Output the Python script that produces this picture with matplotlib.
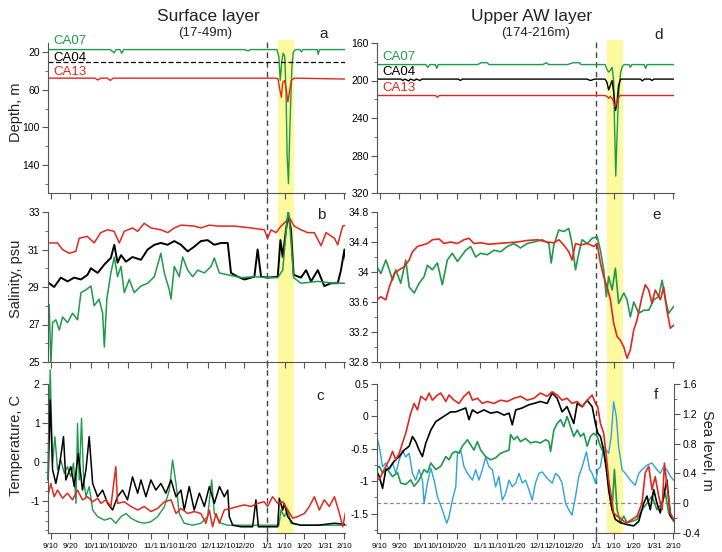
import matplotlib
matplotlib.use("Agg")
import matplotlib.pyplot as plt
from matplotlib.ticker import MultipleLocator, FuncFormatter, FixedLocator

plt.rcParams['font.family'] = ['Liberation Sans', 'DejaVu Sans']
plt.rcParams['axes.unicode_minus'] = False

# x axis: days since Sep 1
tick_days = [9, 19, 30, 39, 49, 61, 70, 80, 91, 100, 110, 122, 131, 141, 152, 162]
tick_labels = ['9/10', '9/20', '10/1', '10/10', '10/20', '11/1', '11/10', '11/20',
               '12/1', '12/10', '12/20', '1/1', '1/10', '1/20', '1/31', '2/10']
new_year = 122
event_start, event_end = 127.5, 136

# ---- a: depth, surface layer ----
dep_sfc_ca07_d = [7.5, 40, 42, 43, 45, 46, 47, 110, 112, 113, 127, 128, 128.7, 129.5, 130.2, 131,
                  131.7, 132.3, 133, 133.6, 134.2, 134.8, 135.5, 136.5, 139, 139.7, 140.5, 148,
                  148.5, 149.2, 164]
dep_sfc_ca07 = [17, 17, 20.5, 17, 17, 21, 17, 17, 18.5, 17, 17, 25, 50, 30, 21, 24,
                60, 130, 160, 110, 70, 36, 20, 17, 17, 19.5, 17, 17,
                22, 17, 17]
dep_sfc_ca04_d = [7.5, 164]
dep_sfc_ca04 = [30, 30]
dep_sfc_ca13_d = [7.5, 32, 33.5, 35, 38.5, 40, 41.5, 126, 127.5, 128.5, 129.3, 130, 131, 132,
                  132.7, 133.5, 134.5, 136, 164]
dep_sfc_ca13 = [47.5, 47.5, 49.5, 47.5, 47.5, 50, 47.5, 47.5, 48, 60, 68, 52, 50, 62,
                73, 62, 50, 47.5, 48.5]

# ---- d: depth, upper AW layer ----
dep_aw_ca07_d = [7.5, 33, 34, 35, 38, 38.7, 39.5, 60, 62, 65, 66, 94, 96, 97, 107, 110, 113, 114,
                 126.5, 127.5, 128.4, 129.3, 130.2, 131, 131.5, 132.1, 132.6, 133.2, 133.8, 134.6,
                 135.5, 136.5, 139, 139.7, 140.5, 147, 147.7, 148.5, 163]
dep_aw_ca07 = [183, 183, 186, 183, 183, 187, 183, 183, 181, 181, 183, 183, 181, 183, 183, 181, 181, 183,
               183, 188, 191, 189, 186, 200, 250, 302, 270, 235, 210, 192,
               185, 183, 183, 186, 183, 183, 187, 183, 183]
dep_aw_ca04_d = [7.5, 20, 21, 22, 24, 25, 27, 28, 30, 31, 50, 51, 52, 117, 119, 121, 126.5, 127.5,
                 128.4, 129.3, 130.2, 131, 132, 132.8, 133.6, 134.6, 145, 146, 147, 150, 151, 152, 163]
dep_aw_ca04 = [198.5, 198.5, 200, 198.5, 200.5, 198.5, 200, 198.5, 200, 198.5, 198.5, 200, 198.5,
               198.5, 200, 198.5, 198.5, 202, 210, 205, 200, 212, 232, 222, 205, 198.5,
               198.5, 200.5, 198.5, 198.5, 200, 198.5, 198.5]
dep_aw_ca13_d = [7.5, 38, 39, 40, 126.5, 127.5, 128.4, 129.3, 130.5, 131.7, 132.5, 133.5, 134.5, 163]
dep_aw_ca13 = [216, 216, 218, 216, 216, 217, 219, 217, 220, 228, 224, 218, 216, 216]

# ---- b: salinity, surface layer ----
sal_sfc_ca13_d = [8.1, 12.5, 15, 18.6, 22, 23.8, 28, 31.6, 35, 38.6, 42, 44.7, 47.3, 51.6, 54.3,
                  57.7, 61.2, 66.4, 70, 73.4, 76.9, 83.8, 87.3, 91.7, 96, 104.7, 113.4, 120.4,
                  122.1, 123.9, 126.5, 129.1, 131.7, 133.5, 136, 139.5, 143, 146.5, 150, 152.6,
                  157, 158.7, 161.3, 163]
sal_sfc_ca13 = [31.35, 31.35, 31.0, 30.8, 30.9, 31.6, 31.7, 31.35, 31.9, 32.05, 31.97, 31.35, 31.97,
                32.15, 31.97, 32.4, 32.15, 32.05, 31.9, 32.15, 32.3, 32.25, 32.15, 32.3, 32.25,
                32.25, 32.15, 32.05, 31.6, 32.05, 31.9, 32.25, 32.5, 32.7, 32.25, 32.05, 31.9,
                31.9, 31.2, 31.9, 31.6, 31.25, 32.25, 32.3]
sal_sfc_ca04_d = [8.1, 10.7, 14.2, 17.7, 21.2, 24.7, 28.1, 29.9, 33.4, 36.9, 40.3, 42.1, 43.8, 45.6,
                  48.2, 51.6, 56, 59.5, 63, 66.4, 69.9, 73.4, 76.9, 80.4, 83.8, 87.3, 90.8, 94.3,
                  97.8, 101.3, 103, 106.5, 110, 115.2, 116.9, 118.7, 122.1, 127.4, 128.8, 130,
                  131.7, 132.9, 134.3, 135.7, 139.5, 142.2, 144.8, 148.3, 151.7, 155.2, 158.7,
                  160.4, 162.2, 163.6]
sal_sfc_ca04 = [29.2, 29.0, 29.5, 29.3, 29.5, 29.4, 29.65, 30.0, 29.75, 30.2, 30.55, 31.25, 30.3, 30.7,
                30.35, 30.6, 30.45, 31.0, 31.25, 31.35, 31.25, 31.45, 31.25, 30.9, 31.15, 31.45,
                31.5, 31.25, 31.35, 31.35, 29.75, 29.55, 29.4, 29.55, 31.0, 29.55, 29.5, 29.55,
                31.5, 30.6, 32.05, 32.85, 32.05, 29.65, 29.5, 29.9, 29.3, 29.9, 29.05, 29.2,
                29.2, 29.9, 31.0, 29.9]
sal_sfc_ca07_d = [8.1, 9.0, 9.9, 11.6, 13.4, 15.1, 17.7, 20.3, 22.9, 24.7, 27.3, 29.9, 31.6, 34.2,
                  36, 36.9, 38.2, 40.3, 42.1, 43.8, 45.6, 47.3, 49.9, 52.5, 56, 59.5, 63, 66.4,
                  68.2, 70.8, 71.7, 73.4, 76, 77.8, 80.4, 83, 85.6, 89.1, 92.6, 94.3, 96.9, 101.3,
                  108.3, 115.2, 122.1, 127.4, 130, 131.7, 132.9, 134.3, 135.7, 139.5, 148.3, 157,
                  163.6]
sal_sfc_ca07 = [28.05, 24.9, 27.1, 27.25, 26.7, 27.4, 27.1, 27.6, 27.25, 28.7, 28.85, 29.05, 28.0,
                28.35, 27.6, 25.8, 28.35, 29.75, 30.6, 29.55, 30.1, 28.7, 29.4, 28.7, 29.05, 29.2,
                29.55, 30.8, 29.75, 28.85, 28.35, 30.1, 29.55, 30.6, 29.9, 29.55, 29.9, 29.75,
                30.1, 30.55, 29.75, 29.65, 29.5, 29.55, 29.5, 29.5, 29.9, 31.9, 33.2, 31.5,
                29.5, 29.2, 29.3, 29.2, 29.2]

# ---- e: salinity, upper AW layer ----
sal_aw_ca13_d = [7.4, 9.5, 12.1, 13.9, 16.5, 19.1, 21.7, 24.3, 26, 28.6, 31.2, 33.8, 36.4, 39.9,
                 42.5, 46, 49.5, 52.9, 55.5, 58.1, 61.6, 65.9, 70.3, 75.5, 80.7, 85.9, 91.1, 96.3,
                 99.8, 102.4, 105, 107.6, 109.3, 111.1, 113.7, 117.2, 120.6, 122.4, 124.1, 125.8,
                 127.6, 129.3, 131, 132.8, 134.5, 136.3, 138, 139.7, 141.5, 143.2, 145.8, 147.5,
                 149.3, 151, 152.7, 155.4, 157.1, 158.8, 160.6, 162.3]
sal_aw_ca13 = [33.63, 33.67, 33.63, 33.8, 33.98, 34.03, 34.07, 34.16, 34.27, 34.34, 34.36, 34.38,
               34.43, 34.44, 34.38, 34.4, 34.38, 34.43, 34.45, 34.38, 34.39, 34.37, 34.38, 34.39,
               34.4, 34.42, 34.43, 34.4, 34.39, 34.43, 34.36, 34.27, 34.16, 34.38, 34.36, 34.38,
               34.34, 34.38, 34.12, 33.94, 33.8, 33.63, 33.32, 33.14, 33.09, 33.0, 32.85, 32.96,
               33.23, 33.36, 33.67, 33.83, 33.76, 33.58, 33.76, 33.63, 33.8, 33.49, 33.25, 33.29]
sal_aw_ca07_d = [7.4, 9.5, 12.1, 13.9, 15.6, 17.3, 19.9, 22.5, 24.3, 26.9, 29.5, 32.1, 33.8, 36.4,
                 39, 41.6, 44.2, 46.8, 49.5, 51.2, 53.8, 56.4, 59, 61.6, 65.1, 68.5, 72, 75.5, 79,
                 82.4, 85.9, 89.4, 93.7, 97.2, 98.4, 99.8, 102.4, 105, 107.6, 109.3, 111.1, 112.8,
                 114.5, 117.2, 119.8, 122.4, 124.1, 125.8, 127.2, 128.4, 130.2, 131.9, 133.6,
                 136.3, 138, 139.7, 141.5, 144.1, 146.7, 149.3, 151.9, 154.5, 156.3, 158, 159.7,
                 162.3]
sal_aw_ca07 = [34.07, 33.98, 34.16, 34.03, 33.89, 34.03, 33.85, 34.16, 33.8, 33.72, 33.85, 33.94,
               34.09, 34.03, 34.12, 33.83, 34.16, 34.25, 34.14, 34.2, 34.29, 34.34, 34.2, 34.25,
               34.23, 34.29, 34.27, 34.34, 34.38, 34.32, 34.38, 34.4, 34.43, 34.38, 34.12, 34.36,
               34.56, 34.54, 34.58, 34.38, 34.03, 34.25, 34.43, 34.38, 34.45, 34.47, 34.29, 34.03,
               33.67, 33.94, 33.76, 34.05, 33.58, 33.72, 33.63, 33.4, 33.6, 33.45, 33.49, 33.49,
               33.63, 33.67, 33.89, 33.63, 33.45, 33.54]

# ---- c: temperature, surface layer ----
tmp_sfc_ca07_d = [7.3, 8.65, 9.9, 11.1, 12.5, 14.2, 16.0, 17.7, 19.4, 20.8, 22.1, 22.9, 23.8, 25.0,
                  26.1, 27.3, 29.0, 30.8, 33.4, 36.9, 40.3, 42.9, 45.6, 48.2, 50.8, 54.3, 57.7,
                  61.2, 64.7, 68.2, 70.8, 72.5, 74.3, 76.0, 78.6, 83.0, 87.3, 90.8, 92.9, 94.3,
                  97.8, 101.3, 128, 129.1, 130.8, 132.6, 134.3, 139.5, 163]
tmp_sfc_ca07 = [-0.46, 2.36, -0.03, 0.65, -0.2, 0.05, -0.29, -0.12, -0.38, -0.03, -1.06, 0.99, -0.46,
                1.12, -0.46, -0.89, -0.63, -1.23, -1.4, -1.49, -1.44, -1.57, -1.4, -1.32, -1.44,
                -1.53, -1.57, -1.53, -1.4, -1.15, -0.72, 0.05, -0.55, -1.32, -1.57, -1.62, -1.57,
                -1.4, -0.46, -1.32, -1.57, -1.62, -1.62, -1.23, -1.4, -1.23, -1.57, -1.62, -1.62]
tmp_sfc_ca04_d = [7.3, 8.65, 9.9, 11.6, 13.4, 15.6, 16.8, 19.4, 21.2, 23.3, 25.5, 27.3, 29.0, 30.8,
                  33.4, 36, 38.6, 41.2, 43.8, 46.4, 49, 51.6, 54.3, 56, 58.6, 61.2, 63.8, 66.4, 69,
                  71.7, 74.3, 76.9, 78.6, 81.2, 83.8, 86.5, 89.1, 91.7, 94.3, 97, 99.5, 101.3,
                  102.1, 103.9, 108.2, 114.3, 116, 117.3, 120.4, 127.4, 128.2, 130, 130.8, 132.6,
                  135.2, 139.5, 148.3, 157, 163]
tmp_sfc_ca04 = [-0.97, 1.59, -0.2, -0.55, -0.12, 0.65, -0.46, -0.12, -0.63, 0.22, -0.72, -0.2, 0.65,
                -0.55, -0.89, -0.72, -1.06, -1.23, -0.89, -0.72, -0.97, -0.38, -0.8, -0.46, -0.89,
                -0.46, -0.72, -0.55, -0.8, -0.46, -0.89, -0.72, -1.23, -0.63, -1.23, -0.8, -1.14,
                -0.63, -1.06, -0.63, -0.89, -0.72, -1.4, -1.62, -1.66, -1.66, -0.97, -1.66, -1.66,
                -1.66, -0.93, -1.23, -1.06, -1.4, -1.57, -1.62, -1.62, -1.57, -1.6]
tmp_sfc_ca13_d = [7.3, 9, 10.7, 12.5, 15.1, 17.7, 20.3, 22.9, 25.5, 28.1, 30.8, 33.4, 35.1, 37.7,
                  40.3, 42.9, 43.8, 47.3, 50.8, 54.3, 57.7, 61.2, 64.7, 68.2, 71.7, 74.3, 76.9,
                  80.4, 83.8, 87.3, 89.9, 91.7, 93.4, 95.2, 96.9, 99.5, 103, 106.5, 110, 113.4,
                  116.9, 120.4, 122.1, 124.7, 127.4, 130, 132.6, 135.2, 137.8, 141.3, 143.9,
                  146.5, 149.1, 151.7, 154.3, 157, 159.6, 161.3, 163]
tmp_sfc_ca13 = [-0.89, -0.55, -0.89, -0.72, -0.93, -0.8, -0.97, -0.72, -0.97, -0.89, -1.02, -0.93,
                -1.06, -0.97, -1.14, -0.12, -1.06, -1.02, -1.14, -1.23, -1.14, -1.27, -1.19, -1.02,
                -0.97, -1.32, -1.19, -1.32, -1.27, -1.32, -1.57, -1.23, -1.66, -1.32, -1.57, -1.23,
                -1.19, -1.14, -1.1, -1.14, -1.06, -1.02, -1.14, -0.89, -1.06, -1.02, -1.23, -1.44,
                -1.4, -1.32, -1.14, -0.89, -1.23, -0.97, -1.14, -0.89, -1.32, -1.66, -1.23]

# ---- f: temperature, upper AW layer + sea level ----
tmp_aw_ca13_d = [6.9, 8.7, 10.4, 12.1, 13.9, 15.6, 17.3, 19.1, 20.8, 22.5, 25.1, 26.9, 28.6, 30.4,
                 33, 34.7, 36.4, 39, 40.8, 43.4, 45.1, 47.7, 50.3, 52.9, 55.5, 57.3, 59.9, 62.5,
                 65.1, 68.5, 72, 75.5, 79, 82.4, 85.9, 89.4, 92.8, 96.3, 98.9, 101.5, 104.1,
                 106.7, 109.3, 112, 114.6, 117.2, 119.8, 121.5, 122.7, 124.1, 125.8, 127.2, 128.4,
                 129.7, 131, 132.8, 134.5, 136.3, 138, 140.6, 143.2, 145.8, 147.5, 149.3, 151,
                 152.7, 154.5, 156.3, 157.5, 158.9, 160.6, 162.3]
tmp_aw_ca13 = [-0.93, -0.98, -0.87, -0.77, -0.67, -0.54, -0.67, -0.57, -0.41, -0.26, 0.05, 0.2, 0.1,
               0.31, 0.25, 0.36, 0.25, 0.33, 0.36, 0.23, 0.33, 0.25, 0.2, 0.31, 0.38, 0.25, 0.28,
               0.2, 0.23, 0.2, 0.25, 0.23, 0.28, 0.31, 0.25, 0.28, 0.36, 0.31, 0.38, 0.33, 0.25,
               0.28, 0.2, 0.23, 0.15, 0.25, 0.33, 0.2, 0.15, -0.11, -0.26, -0.62, -0.98, -1.23,
               -1.49, -1.54, -1.57, -1.62, -1.64, -1.59, -1.54, -1.34, -0.87, -0.77, -1.13, -0.93,
               -1.23, -1.44, -0.72, -1.08, -1.49, -1.59]
tmp_aw_ca04_d = [6.9, 8.7, 10.4, 12.1, 13.9, 16.5, 19.1, 21.7, 24.3, 26, 27.7, 29.5, 31.2, 33, 35.6,
                 38.2, 40.8, 43.4, 46, 48.6, 51.2, 53.8, 55.5, 57.3, 59.9, 63.3, 66.8, 70.3, 73.8,
                 76.4, 78.1, 79.9, 83.3, 86.8, 89.4, 92.8, 96.3, 98.9, 101.5, 104.1, 106.7, 110.2,
                 112, 114.6, 117.2, 119.8, 121.5, 122.7, 124.1, 125.8, 127.2, 128.4, 130.2, 131.9,
                 134.5, 138, 141.5, 144.1, 146.7, 148.4, 150.1, 151.9, 153.6, 155.3, 157.1, 158.8,
                 160.6, 162.3]
tmp_aw_ca04 = [-0.82, -0.93, -1.11, -0.82, -0.8, -0.69, -0.62, -0.52, -0.46, -0.31, -0.39, -0.52,
               -0.62, -0.41, -0.21, -0.08, -0.03, 0.02, 0.07, 0.07, 0.1, 0.13, -0.05, 0.1, 0.05, 0.1,
               0.05, 0.07, 0.02, 0.05, -0.13, 0.1, 0.13, 0.18, 0.2, 0.23, 0.2, 0.36, 0.28, 0.07,
               0.15, -0.11, 0.2, 0.15, 0.25, 0.15, -0.11, -0.26, -0.31, -0.52, -0.82, -1.13, -1.44,
               -1.59, -1.64, -1.67, -1.69, -1.62, -1.34, -1.23, -1.44, -1.13, -1.34, -1.49, -1.23,
               -0.98, -1.54, -1.59]
tmp_aw_ca07_d = [6.9, 8.7, 10.4, 13, 15.6, 18.2, 19.9, 22.5, 25.1, 26.9, 29.5, 32.1, 33.8, 35.6,
                 38.2, 40.8, 43.4, 45.1, 46.8, 48.6, 50.3, 52, 54.7, 56.4, 58.1, 59.9, 61.6, 64.2,
                 66.8, 69.4, 72, 74.6, 76.4, 77.2, 79, 80.7, 82.4, 85, 87.6, 90.2, 92.8, 95.5, 97.2,
                 98.1, 99.8, 101.5, 103.3, 105, 106.7, 108.5, 110.2, 112, 113.7, 115.4, 117.2,
                 118.9, 120.6, 122.4, 124.1, 125.8, 127.6, 129, 130.2, 131.4, 132.8, 134.5, 136.3,
                 138, 140.6, 143.2, 145.8, 148.4, 151, 153.6, 156.3, 158, 159.7, 162.3]
tmp_aw_ca07 = [-0.82, -0.77, -0.87, -0.82, -0.93, -0.87, -1.03, -1.05, -0.98, -1.08, -0.98, -0.82,
               -0.87, -0.72, -0.82, -0.77, -0.62, -0.67, -0.57, -0.54, -0.57, -0.46, -0.36, -0.44,
               -0.52, -0.39, -0.52, -0.62, -0.67, -0.64, -0.57, -0.54, -0.52, -0.28, -0.36, -0.31,
               -0.39, -0.34, -0.41, -0.39, -0.41, -0.36, -0.39, -0.54, -0.21, -0.11, -0.05, -0.16,
               0.0, -0.16, -0.31, -0.21, -0.31, -0.26, -0.46, -0.31, -0.26, -0.31, -0.46, -0.57,
               -0.82, -1.23, -1.44, -0.82, -1.44, -1.64, -1.54, -1.64, -1.62, -1.59, -1.44, -1.34,
               -1.23, -1.44, -1.34, -1.18, -1.49, -1.62]
sea_level_d = [6.9, 8.7, 10.4, 12.1, 13.9, 15.6, 17.3, 19.1, 20.8, 22.5, 24.3, 26, 27.7, 29.5, 31.2,
               32.1, 33.8, 35.6, 37.3, 39, 41.6, 43.9, 45.1, 46.8, 48.6, 49.5, 51.2, 52.9, 54.7,
               57.3, 59, 60.7, 62.5, 64.2, 65.9, 67.7, 69.4, 71.1, 72.9, 74.6, 76.4, 78.1, 79.9,
               81.6, 83.3, 85, 86.8, 88.5, 90.2, 92, 93.7, 95.5, 97.2, 98.9, 100.7, 102.4, 104.1,
               105.9, 107.6, 109.3, 111.1, 112.8, 114.6, 116.8, 118.5, 119.8, 121.5, 122.7, 124.1,
               125.8, 127.2, 128.4, 129.7, 131, 132.4, 133.6, 135.4, 137.1, 139.7, 142.3, 144.1,
               145.8, 148.4, 151, 153.6, 155.3, 157.1, 158.8, 160.6, 162.3]
sea_level = [0.94, 0.76, 0.49, 0.54, 0.45, 0.54, 0.4, 0.58, 0.71, 0.62, 0.67, 0.4, 0.31, 0.45, 0.31,
             0.0, 0.27, 0.47, 0.31, 0.09, -0.09, -0.27, -0.18, 0.04, 0.22, 0.67, 0.71, 0.49, 0.4,
             0.31, 0.45, 0.31, 0.45, 0.62, 0.49, 0.45, 0.22, 0.36, 0.04, 0.13, 0.31, 0.22, 0.27,
             0.4, 0.27, 0.31, 0.18, 0.04, 0.27, 0.4, 0.42, 0.36, 0.31, 0.27, 0.4, 0.36, 0.27,
             0.0, -0.09, -0.16, 0.09, 0.36, 0.49, 0.69, 0.45, 0.4, 0.27, 0.45, 0.49,
             0.76, 0.71, 0.67, 0.89, 1.36, 1.16, 0.76, 0.45, 0.4, 0.31, 0.24, 0.4,
             0.45, 0.51, 0.54, 0.45, 0.4, 0.49, 0.45, 0.36, 0.31]

GREEN = '#1e9a4a'
RED = '#e0281e'
BLACK = '#000000'
BLUE = '#2ba3dc'
YELLOW = '#fdf99e'

fig = plt.figure(figsize=(7.22, 5.52), dpi=100)
W, H = 722.0, 552.0


def make_ax(left, top, right, bottom):
    return fig.add_axes([left / W, 1 - bottom / H, (right - left) / W, (bottom - top) / H])


fmt = FuncFormatter(lambda v, p: '%g' % round(v, 3))

ax_a = make_ax(48, 43, 345, 193)
ax_b = make_ax(48, 212, 345, 362)
ax_c = make_ax(48, 384, 345, 533)
ax_d = make_ax(377, 43, 674, 193)
ax_e = make_ax(377, 212, 674, 362)
ax_f2 = make_ax(377, 384, 674, 533)   # sea level axis, drawn underneath
ax_f = make_ax(377, 384, 674, 533)    # temperature axis on top

ext_below = {ax_a: -0.13, ax_b: -0.15, ax_c: 0.0, ax_d: -0.13, ax_e: -0.15, ax_f: 0.0}

for ax in [ax_a, ax_b, ax_c, ax_d, ax_e, ax_f]:
    ax.set_xlim(7.5, 162.5)
    ax.spines['top'].set_visible(False)
    ax.spines['right'].set_visible(False)
    ax.spines['left'].set_color('#555555')
    ax.spines['bottom'].set_color('#555555')
    ax.xaxis.set_major_locator(FixedLocator(tick_days))
    ax.tick_params(axis='both', which='major', direction='out', length=4, width=0.8,
                   color='#555555', labelsize=7.5, pad=2)
    ax.tick_params(axis='y', which='minor', direction='out', length=2.5, width=0.6, color='#555555')
    ax.yaxis.set_major_formatter(fmt)
    lo = ext_below[ax]
    band_ax = ax_f2 if ax is ax_f else ax
    band_ax.axvspan(event_start, event_end, ymin=lo, ymax=1.02, color=YELLOW, lw=0, zorder=0,
                    clip_on=False)
    band_ax.axvline(new_year, ymin=lo if lo < 0 else -0.06, ymax=1.02, color='#444444', lw=1.0,
                    ls=(0, (4, 3)), zorder=1, clip_on=False)
    if ax in (ax_c, ax_f):
        ax.set_xticklabels(tick_labels, fontsize=5.8)
        ax.tick_params(axis='x', pad=3)
    else:
        ax.set_xticklabels([])

# a
ax_a.plot(dep_sfc_ca07_d, dep_sfc_ca07, color=GREEN, lw=1.0)
ax_a.plot(dep_sfc_ca04_d, dep_sfc_ca04, color=BLACK, lw=0.9, ls=(0, (4, 2)))
ax_a.plot(dep_sfc_ca13_d, dep_sfc_ca13, color=RED, lw=1.0)
ax_a.set_ylim(170, 10)
ax_a.yaxis.set_major_locator(FixedLocator([20, 60, 100, 140]))
ax_a.yaxis.set_minor_locator(FixedLocator([40, 80, 120, 160]))

# d
ax_d.plot(dep_aw_ca07_d, dep_aw_ca07, color=GREEN, lw=1.0)
ax_d.plot(dep_aw_ca04_d, dep_aw_ca04, color=BLACK, lw=1.0)
ax_d.plot(dep_aw_ca13_d, dep_aw_ca13, color=RED, lw=1.0)
ax_d.set_ylim(320, 160)
ax_d.yaxis.set_major_locator(MultipleLocator(40))
ax_d.yaxis.set_minor_locator(MultipleLocator(20))

# b
ax_b.plot(sal_sfc_ca13_d, sal_sfc_ca13, color=RED, lw=1.1)
ax_b.plot(sal_sfc_ca04_d, sal_sfc_ca04, color=BLACK, lw=1.4)
ax_b.plot(sal_sfc_ca07_d, sal_sfc_ca07, color=GREEN, lw=1.1)
ax_b.set_ylim(25, 33)
ax_b.yaxis.set_major_locator(FixedLocator([25, 27, 29, 31, 33]))
ax_b.yaxis.set_minor_locator(FixedLocator([26, 28, 30, 32]))

# e
ax_e.plot(sal_aw_ca07_d, sal_aw_ca07, color=GREEN, lw=1.2)
ax_e.plot(sal_aw_ca13_d, sal_aw_ca13, color=RED, lw=1.2)
ax_e.set_ylim(32.8, 34.8)
ax_e.yaxis.set_major_locator(MultipleLocator(0.4))
ax_e.yaxis.set_minor_locator(MultipleLocator(0.2))

# c
ax_c.plot(tmp_sfc_ca07_d, tmp_sfc_ca07, color=GREEN, lw=1.0, clip_on=False)
ax_c.plot(tmp_sfc_ca04_d, tmp_sfc_ca04, color=BLACK, lw=1.1)
ax_c.plot(tmp_sfc_ca13_d, tmp_sfc_ca13, color=RED, lw=1.1)
ax_c.set_ylim(-1.82, 2)
ax_c.yaxis.set_major_locator(MultipleLocator(1))
ax_c.yaxis.set_minor_locator(MultipleLocator(0.25))

# f: sea level on the lower axes (right side)
ax_f2.plot(sea_level_d, sea_level, color=BLUE, lw=1.0, zorder=2)
ax_f2.axhline(0, color='#888888', lw=0.9, ls=(0, (3, 2)), zorder=1)
ax_f2.set_xlim(7.5, 162.5)
ax_f2.set_ylim(-0.4, 1.6)
ax_f2.yaxis.tick_right()
ax_f2.yaxis.set_major_locator(MultipleLocator(0.4))
ax_f2.yaxis.set_minor_locator(MultipleLocator(0.2))
ax_f2.yaxis.set_major_formatter(fmt)
ax_f2.set_xticks([])
for s in ['top', 'left', 'bottom']:
    ax_f2.spines[s].set_visible(False)
ax_f2.spines['right'].set_color('#555555')
ax_f2.tick_params(axis='y', which='major', direction='out', length=4, width=0.8,
                  color='#555555', labelsize=7.5, pad=2)
ax_f2.tick_params(axis='y', which='minor', direction='out', length=2.5, width=0.6, color='#555555')

ax_f.patch.set_visible(False)
ax_f.plot(tmp_aw_ca07_d, tmp_aw_ca07, color=GREEN, lw=1.2)
ax_f.plot(tmp_aw_ca04_d, tmp_aw_ca04, color=BLACK, lw=1.2)
ax_f.plot(tmp_aw_ca13_d, tmp_aw_ca13, color=RED, lw=1.2)
ax_f.set_ylim(-1.8, 0.5)
ax_f.yaxis.set_major_locator(MultipleLocator(0.5))
ax_f.yaxis.set_minor_locator(MultipleLocator(0.25))


# texts
def ftext(x, y, s, **kw):
    fig.text(x / W, 1 - y / H, s, **kw)


ftext(208, 17, 'Surface layer', fontsize=12.5, ha='center', va='center', color='#222222')
ftext(205, 33, '(17-49m)', fontsize=9.5, ha='center', va='center', color='#222222')
ftext(532, 16, 'Upper AW layer', fontsize=12.5, ha='center', va='center', color='#222222')
ftext(536, 33, '(174-216m)', fontsize=9.5, ha='center', va='center', color='#222222')

for (x, y, s) in [(324, 34, 'a'), (659, 35, 'd'), (321, 215, 'b'), (657, 215, 'e'),
                  (320, 396, 'c'), (656, 395, 'f')]:
    ftext(x, y, s, fontsize=11, ha='center', va='center', color='#222222')

ftext(53, 41, 'CA07', fontsize=9.5, ha='left', va='center', color=GREEN)
ftext(53, 58, 'CA04', fontsize=9.5, ha='left', va='center', color=BLACK)
ftext(53, 72, 'CA13', fontsize=9.5, ha='left', va='center', color=RED)
ftext(382, 57, 'CA07', fontsize=9.5, ha='left', va='center', color=GREEN)
ftext(382, 72, 'CA04', fontsize=9.5, ha='left', va='center', color=BLACK)
ftext(382, 88, 'CA13', fontsize=9.5, ha='left', va='center', color=RED)

ftext(16, 112, 'Depth, m', fontsize=10.5, rotation=90, ha='center', va='center', color='#222222')
ftext(16, 279, 'Salinity, psu', fontsize=10.5, rotation=90, ha='center', va='center', color='#222222')
ftext(16, 445, 'Temperature, C', fontsize=10.5, rotation=90, ha='center', va='center', color='#222222')
ftext(707, 450, 'Sea level, m', fontsize=10.5, rotation=270, ha='center', va='center', color='#222222')

fig.savefig('out.png', dpi=100)
